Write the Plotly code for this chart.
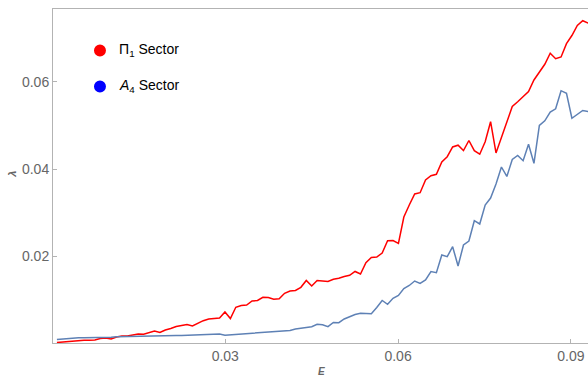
import numpy as np
import plotly.graph_objects as go

# E grid (~99 evenly spaced samples)
E = np.round(0.00078 + 0.000941 * np.arange(99), 6)

# Pi_1 sector
lam_pi1 = [0.00011, 0.00023, 0.00034, 0.00046, 0.00057, 0.00062, 0.00064, 0.00069, 0.00103, 0.00115,
           0.00092, 0.00138, 0.00161, 0.00161, 0.00184, 0.00207, 0.0020, 0.0023, 0.00276, 0.00241,
           0.00299, 0.00333, 0.00379, 0.00402, 0.00425, 0.00391, 0.0046, 0.00513, 0.00552, 0.00568,
           0.00575, 0.00713, 0.00563, 0.00821, 0.00862, 0.00874, 0.00966, 0.00977, 0.01051, 0.01046,
           0.01007, 0.01018, 0.01143, 0.01195, 0.01207, 0.0128, 0.01437, 0.0131, 0.01437, 0.01425,
           0.01414, 0.01464, 0.01487, 0.01529, 0.01556, 0.01644, 0.01586, 0.01846, 0.01966, 0.01977,
           0.02069, 0.02352, 0.02356, 0.02292, 0.02897, 0.03172, 0.03425, 0.03455, 0.03747, 0.03844,
           0.03878, 0.04161, 0.04283, 0.04506, 0.04547, 0.04425, 0.04655, 0.04421, 0.0434, 0.04628,
           0.05087, 0.04368, 0.04736, 0.0508, 0.05437, 0.05547, 0.05655, 0.05782, 0.06046, 0.06218,
           0.06407, 0.0666, 0.06536, 0.06575, 0.06881, 0.07069, 0.07299, 0.07409, 0.07356]

# A_4 sector
lam_a4 = [0.0008, 0.00092, 0.00103, 0.00115, 0.0012, 0.00122, 0.00122, 0.00124, 0.00124, 0.00129,
          0.00133, 0.00143, 0.00147, 0.00152, 0.00156, 0.00159, 0.00161, 0.00161, 0.00163, 0.00166,
          0.00168, 0.0017, 0.00172, 0.00172, 0.00177, 0.00179, 0.00184, 0.00193, 0.00198, 0.00202,
          0.00205, 0.00179, 0.00189, 0.0020, 0.00207, 0.00214, 0.00225, 0.0023, 0.00239, 0.00246,
          0.00264, 0.00271, 0.00276, 0.00287, 0.00322, 0.00333, 0.00356, 0.00375, 0.0043, 0.00418,
          0.00375, 0.00471, 0.00467, 0.00552, 0.00609, 0.00655, 0.00683, 0.0068, 0.00671, 0.00816,
          0.00977, 0.0089, 0.01028, 0.01092, 0.01253, 0.01322, 0.01425, 0.01372, 0.01448, 0.01644,
          0.01616, 0.02023, 0.01984, 0.02214, 0.0177, 0.02253, 0.02345, 0.02811, 0.02736, 0.03172,
          0.03333, 0.03655, 0.04046, 0.03828, 0.04218, 0.0431, 0.04191, 0.0457, 0.04131, 0.05,
          0.05108, 0.0531, 0.05384, 0.058, 0.0574, 0.05166, 0.05248, 0.05345, 0.05322]

x_ticks = [0.03, 0.06, 0.09]
y_ticks = [0.02, 0.04, 0.06]

frame = '#b3b3b3'
label_gray = '#666666'
font = 'Liberation Sans, Arial, sans-serif'

fig = go.Figure()
fig.add_trace(go.Scatter(x=E, y=lam_pi1, mode='lines', line=dict(color='#ff0000', width=1.5),
                         name='Π1 Sector', showlegend=False))
fig.add_trace(go.Scatter(x=E, y=lam_a4, mode='lines', line=dict(color='#5e81b5', width=1.5),
                         name='A4 Sector', showlegend=False))

# point legend drawn by hand in the upper left
legend_items = [('Π<sub>1</sub> Sector', '#ff0000', 0.876), ('<i>A</i><sub>4</sub> Sector', '#0000ff', 0.768)]
for text, col, yp in legend_items:
    fig.add_shape(type='circle', xref='paper', yref='paper',
                  x0=0.0766, x1=0.0990, y0=yp - 0.018, y1=yp + 0.018,
                  fillcolor=col, line=dict(width=0))
    fig.add_annotation(xref='paper', yref='paper', x=0.119, y=yp, text=text, showarrow=False,
                       xanchor='left', yanchor='middle', font=dict(size=14, color='black', family=font))

fig.add_annotation(xref='paper', yref='paper', x=0.502, y=-0.084, text='<i><b>E</b></i>',
                   showarrow=False, xanchor='center', yanchor='middle',
                   font=dict(size=10, color=label_gray, family=font))
fig.add_annotation(xref='paper', yref='paper', x=-0.076, y=0.505, text='<i><b>λ</b></i>',
                   showarrow=False, textangle=-90, xanchor='center', yanchor='middle',
                   font=dict(size=11, color=label_gray, family=font))

fig.update_xaxes(range=[0.0001, 0.09297], tickvals=x_ticks, ticktext=['0.03', '0.06', '0.09'],
                 showgrid=False, zeroline=False, showline=True, linecolor=frame, linewidth=1,
                 mirror=True, ticks='inside', ticklen=4, tickcolor=frame,
                 tickfont=dict(size=14, color=label_gray, family=font))
fig.update_yaxes(range=[0, 0.07678], tickvals=y_ticks, ticktext=['0.02', '0.04', '0.06'],
                 showgrid=False, zeroline=False, showline=True, linecolor=frame, linewidth=1,
                 ticks='inside', ticklen=4, tickcolor=frame,
                 tickfont=dict(size=14, color=label_gray, family=font))

fig.update_layout(width=588, height=377, margin=dict(l=53, r=0, t=9, b=34),
                  plot_bgcolor='white', paper_bgcolor='white')

fig.write_html('out.html', config={'displayModeBar': False},
               post_script="document.body.style.margin='0';")
